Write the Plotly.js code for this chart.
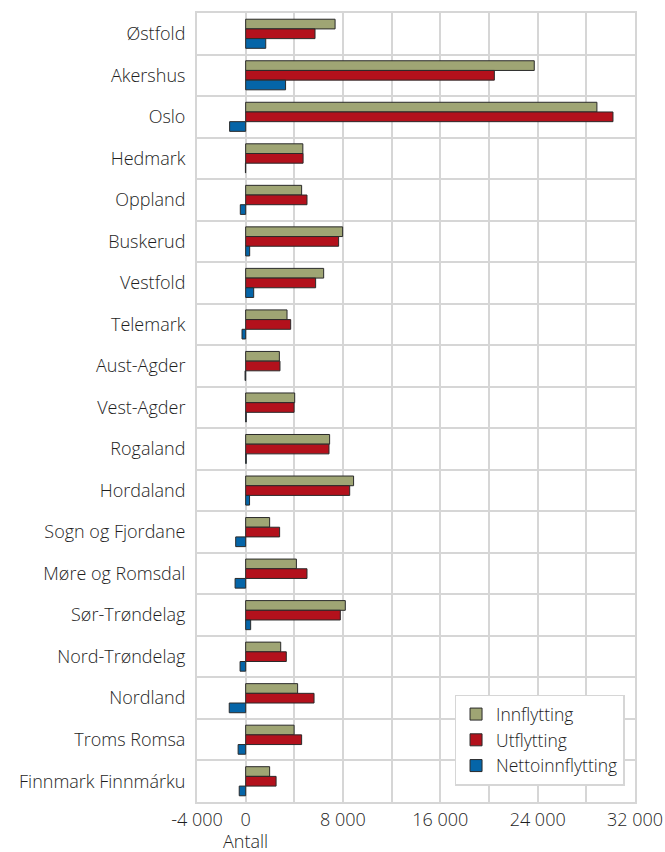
<!DOCTYPE html>
<html>
<head>
<meta charset="utf-8">
<script src="https://cdn.plot.ly/plotly-3.0.1.min.js"></script>
<style>html,body{margin:0;padding:0;background:#fff;}#chart{width:665px;height:852px;}</style>
</head>
<body>
<div id="chart"></div>
<script>
const categories = ["Østfold","Akershus","Oslo","Hedmark","Oppland","Buskerud","Vestfold","Telemark","Aust-Agder","Vest-Agder","Rogaland","Hordaland","Sogn og Fjordane","Møre og Romsdal","Sør-Trøndelag","Nord-Trøndelag","Nordland","Troms Romsa","Finnmark Finnmárku"];
const innflytting = [7350,23720,28870,4700,4600,7970,6410,3400,2770,4030,6900,8870,1970,4170,8190,2880,4270,3980,1970];
const utflytting = [5700,20440,30190,4720,5040,7640,5750,3700,2820,3980,6850,8550,2790,5040,7780,3340,5620,4600,2500];
const netto = [1650,3280,-1320,-20,-440,330,660,-300,-50,50,50,320,-820,-870,410,-460,-1350,-620,-530];
const tickVals = [-4000,0,8000,16000,24000,32000];
const tickText = ["-4 000","0","8 000","16 000","24 000","32 000"];

const font = {family: "Open Sans, Noto Sans, sans-serif", size: 18, color: "#1e1e1e", weight: 300};
const legFont = {family: "Open Sans, Noto Sans, sans-serif", size: 17.5, color: "#1e1e1e", weight: 300};
const line = {color: "#2a2a2a", width: 1};
const traces = [
  {type:"bar", orientation:"h", name:"Innflytting", y:categories, x:innflytting, marker:{color:"#9fa574", line:line}},
  {type:"bar", orientation:"h", name:"Utflytting", y:categories, x:utflytting, marker:{color:"#b3111c", line:line}},
  {type:"bar", orientation:"h", name:"Nettoinnflytting", y:categories, x:netto, marker:{color:"#0565a8", line:line}}
];
const grid = "#d6d6d6";
const layout = {
  width:665, height:852,
  margin:{l:197, r:30, t:13, b:50},
  paper_bgcolor:"#fff", plot_bgcolor:"#fff",
  font: font,
  barmode:"group", bargap:0.3, bargroupgap:0,
  showlegend:true,
  legend:{x:0.588, y:0.136, xanchor:"left", yanchor:"top", bgcolor:"#fff", bordercolor:grid, borderwidth:1.5, traceorder:"normal", font:legFont, tracegroupgap:0, itemwidth:30},
  xaxis:{range:[-4000,32000], tickvals:tickVals, ticktext:tickText, showgrid:true, gridcolor:grid, gridwidth:2,
         minor:{dtick:4000, tick0:0, showgrid:true, gridcolor:grid, gridwidth:2},
         zeroline:false, showline:true, mirror:true, linecolor:grid, linewidth:2, ticks:"", ticklen:0, tickfont:font, fixedrange:true, ticklabelstandoff:0},
  yaxis:{type:"category", autorange:"reversed", tickson:"boundaries", showgrid:true, gridcolor:grid, gridwidth:2,
         zeroline:false, showline:true, mirror:true, linecolor:grid, linewidth:2, ticks:"", ticklen:0, tickfont:font, ticklabelstandoff:6},
  annotations:[{text:"Antall", xref:"x", yref:"paper", x:0, y:0, yshift:-25, yanchor:"top", showarrow:false, font:font}]
};
Plotly.newPlot("chart", traces, layout, {staticPlot:true});
</script>
</body>
</html>
